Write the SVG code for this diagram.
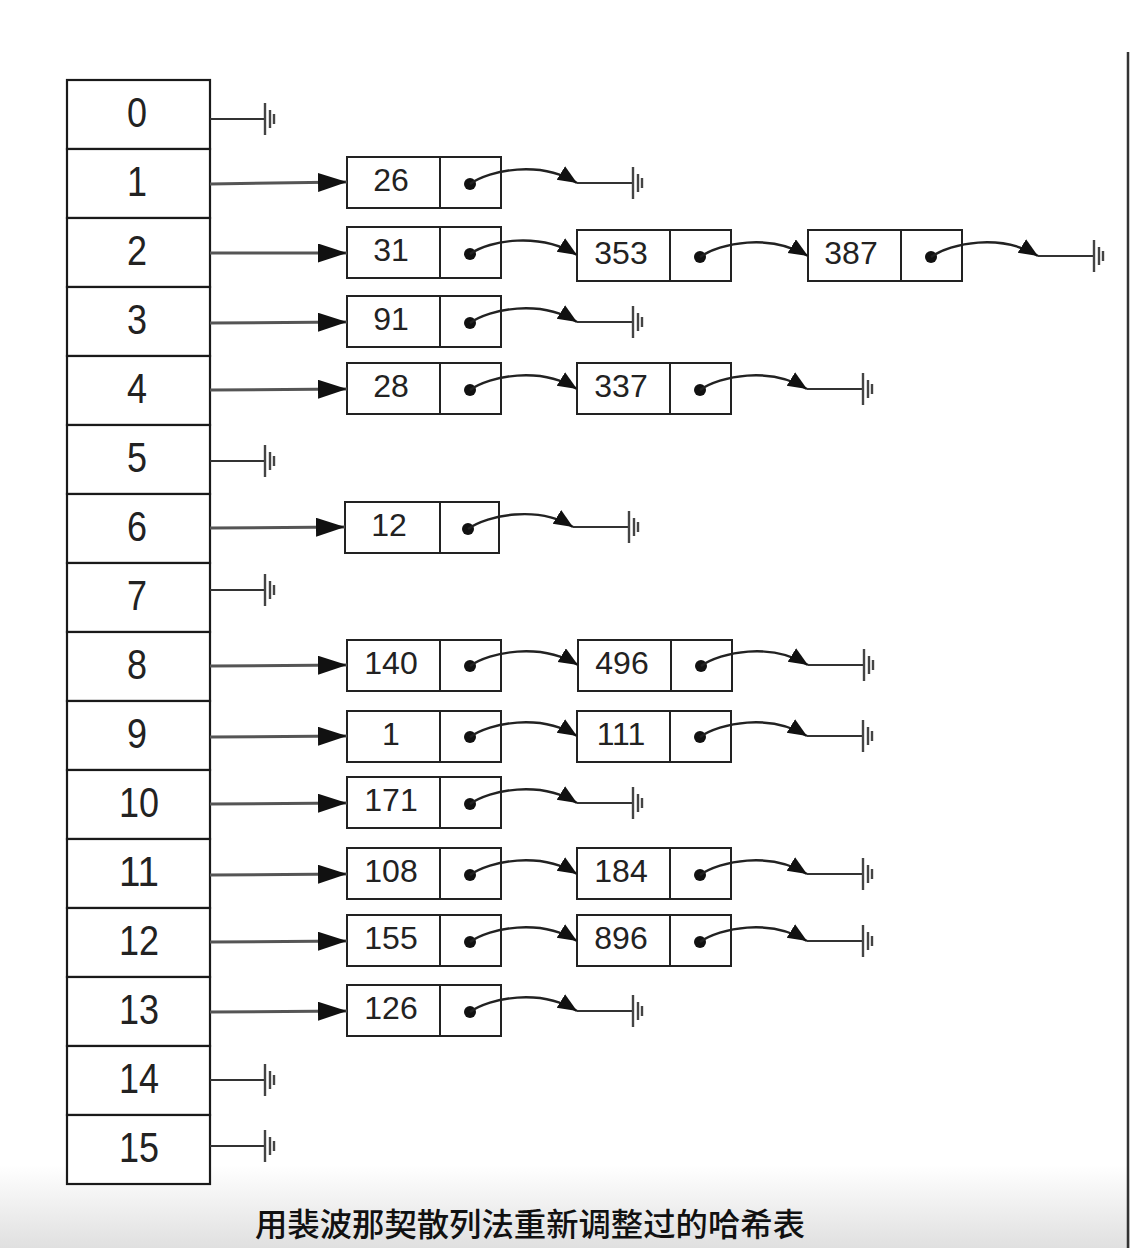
<svg xmlns="http://www.w3.org/2000/svg" xmlns:xlink="http://www.w3.org/1999/xlink" width="1130" height="1248" viewBox="0 0 1130 1248">
<style>
.cell{fill:#fff;stroke:#1a1a1a;stroke-width:2.2}
.nd{fill:#fff;stroke:#222;stroke-width:2}
.tn{font-family:"Liberation Sans",Arial,sans-serif;font-size:42px;fill:#222;text-anchor:middle}
.vn{font-family:"Liberation Sans",Arial,sans-serif;font-size:32px;fill:#222;text-anchor:middle}
.arr{stroke:#555;stroke-width:3;fill:none}
.nul{stroke:#333;stroke-width:2.2;fill:none}
.crv{stroke:#222;stroke-width:2.4;fill:none}
.dot{fill:#111}
.gl{stroke:#444;stroke-width:2.4}
.cap{font-family:"Liberation Sans","Noto Sans CJK SC",sans-serif;font-size:32px;font-weight:500;fill:#111;text-anchor:middle}
</style>
<defs>
<marker id="ah" markerUnits="userSpaceOnUse" markerWidth="30" markerHeight="20" refX="29" refY="9.5" orient="auto"><path d="M0,0 L29,9.5 L0,19 z" fill="#111"/></marker>
<marker id="ch" markerUnits="userSpaceOnUse" markerWidth="22" markerHeight="18" refX="19" refY="8" orient="auto"><path d="M0,0 L19,8 L0,16 z" fill="#111"/></marker>
<g id="gnd"><line class="gl" x1="0" y1="-16" x2="0" y2="16"/><line class="gl" x1="5" y1="-9" x2="5" y2="9"/><line class="gl" x1="9" y1="-5" x2="9" y2="5"/></g>
<linearGradient id="bg" x1="0" y1="0" x2="0" y2="1"><stop offset="0" stop-color="#ffffff"/><stop offset="1" stop-color="#e0e0e0"/></linearGradient>
</defs>
<rect x="0" y="0" width="1130" height="1248" fill="#fff"/>
<rect x="0" y="1165" width="1130" height="83" fill="url(#bg)"/>
<line x1="1128" y1="52" x2="1128" y2="1248" stroke="#333" stroke-width="2.5"/>

<g id="table">
<g id="bucket-0"><rect class="cell" x="67" y="80" width="143" height="69"/><text class="tn" x="137" y="127" textLength="20" lengthAdjust="spacingAndGlyphs">0</text></g>
<g id="bucket-1"><rect class="cell" x="67" y="149" width="143" height="69"/><text class="tn" x="137" y="196" textLength="20" lengthAdjust="spacingAndGlyphs">1</text></g>
<g id="bucket-2"><rect class="cell" x="67" y="218" width="143" height="69"/><text class="tn" x="137" y="265" textLength="20" lengthAdjust="spacingAndGlyphs">2</text></g>
<g id="bucket-3"><rect class="cell" x="67" y="287" width="143" height="69"/><text class="tn" x="137" y="334" textLength="20" lengthAdjust="spacingAndGlyphs">3</text></g>
<g id="bucket-4"><rect class="cell" x="67" y="356" width="143" height="69"/><text class="tn" x="137" y="403" textLength="20" lengthAdjust="spacingAndGlyphs">4</text></g>
<g id="bucket-5"><rect class="cell" x="67" y="425" width="143" height="69"/><text class="tn" x="137" y="472" textLength="20" lengthAdjust="spacingAndGlyphs">5</text></g>
<g id="bucket-6"><rect class="cell" x="67" y="494" width="143" height="69"/><text class="tn" x="137" y="541" textLength="20" lengthAdjust="spacingAndGlyphs">6</text></g>
<g id="bucket-7"><rect class="cell" x="67" y="563" width="143" height="69"/><text class="tn" x="137" y="610" textLength="20" lengthAdjust="spacingAndGlyphs">7</text></g>
<g id="bucket-8"><rect class="cell" x="67" y="632" width="143" height="69"/><text class="tn" x="137" y="679" textLength="20" lengthAdjust="spacingAndGlyphs">8</text></g>
<g id="bucket-9"><rect class="cell" x="67" y="701" width="143" height="69"/><text class="tn" x="137" y="748" textLength="20" lengthAdjust="spacingAndGlyphs">9</text></g>
<g id="bucket-10"><rect class="cell" x="67" y="770" width="143" height="69"/><text class="tn" x="139" y="817" textLength="40" lengthAdjust="spacingAndGlyphs">10</text></g>
<g id="bucket-11"><rect class="cell" x="67" y="839" width="143" height="69"/><text class="tn" x="139" y="886" textLength="40" lengthAdjust="spacingAndGlyphs">11</text></g>
<g id="bucket-12"><rect class="cell" x="67" y="908" width="143" height="69"/><text class="tn" x="139" y="955" textLength="40" lengthAdjust="spacingAndGlyphs">12</text></g>
<g id="bucket-13"><rect class="cell" x="67" y="977" width="143" height="69"/><text class="tn" x="139" y="1024" textLength="40" lengthAdjust="spacingAndGlyphs">13</text></g>
<g id="bucket-14"><rect class="cell" x="67" y="1046" width="143" height="69"/><text class="tn" x="139" y="1093" textLength="40" lengthAdjust="spacingAndGlyphs">14</text></g>
<g id="bucket-15"><rect class="cell" x="67" y="1115" width="143" height="69"/><text class="tn" x="139" y="1162" textLength="40" lengthAdjust="spacingAndGlyphs">15</text></g>
</g>

<g id="nodes">
<g id="n26"><rect class="nd" x="347" y="157" width="154" height="51"/><line class="nd" x1="440" y1="157" x2="440" y2="208"/><text class="vn" x="391" y="191">26</text><circle class="dot" cx="470" cy="184" r="6"/></g>
<g id="n31"><rect class="nd" x="347" y="227" width="154" height="51"/><line class="nd" x1="440" y1="227" x2="440" y2="278"/><text class="vn" x="391" y="261">31</text><circle class="dot" cx="470" cy="254" r="6"/></g>
<g id="n353"><rect class="nd" x="577" y="230" width="154" height="51"/><line class="nd" x1="670" y1="230" x2="670" y2="281"/><text class="vn" x="621" y="264">353</text><circle class="dot" cx="700" cy="257" r="6"/></g>
<g id="n387"><rect class="nd" x="808" y="230" width="154" height="51"/><line class="nd" x1="901" y1="230" x2="901" y2="281"/><text class="vn" x="851" y="264">387</text><circle class="dot" cx="931" cy="257" r="6"/></g>
<g id="n91"><rect class="nd" x="347" y="296" width="154" height="51"/><line class="nd" x1="440" y1="296" x2="440" y2="347"/><text class="vn" x="391" y="330">91</text><circle class="dot" cx="470" cy="323" r="6"/></g>
<g id="n28"><rect class="nd" x="347" y="363" width="154" height="51"/><line class="nd" x1="440" y1="363" x2="440" y2="414"/><text class="vn" x="391" y="397">28</text><circle class="dot" cx="470" cy="390" r="6"/></g>
<g id="n337"><rect class="nd" x="577" y="363" width="154" height="51"/><line class="nd" x1="670" y1="363" x2="670" y2="414"/><text class="vn" x="621" y="397">337</text><circle class="dot" cx="700" cy="390" r="6"/></g>
<g id="n12"><rect class="nd" x="345" y="502" width="154" height="51"/><line class="nd" x1="440" y1="502" x2="440" y2="553"/><text class="vn" x="389" y="536">12</text><circle class="dot" cx="468" cy="529" r="6"/></g>
<g id="n140"><rect class="nd" x="347" y="640" width="154" height="51"/><line class="nd" x1="440" y1="640" x2="440" y2="691"/><text class="vn" x="391" y="674">140</text><circle class="dot" cx="470" cy="666" r="6"/></g>
<g id="n496"><rect class="nd" x="578" y="640" width="154" height="51"/><line class="nd" x1="671" y1="640" x2="671" y2="691"/><text class="vn" x="622" y="674">496</text><circle class="dot" cx="701" cy="666" r="6"/></g>
<g id="n1"><rect class="nd" x="347" y="711" width="154" height="51"/><line class="nd" x1="440" y1="711" x2="440" y2="762"/><text class="vn" x="391" y="745">1</text><circle class="dot" cx="470" cy="737" r="6"/></g>
<g id="n111"><rect class="nd" x="577" y="711" width="154" height="51"/><line class="nd" x1="670" y1="711" x2="670" y2="762"/><text class="vn" x="621" y="745">111</text><circle class="dot" cx="700" cy="737" r="6"/></g>
<g id="n171"><rect class="nd" x="347" y="777" width="154" height="51"/><line class="nd" x1="440" y1="777" x2="440" y2="828"/><text class="vn" x="391" y="811">171</text><circle class="dot" cx="470" cy="804" r="6"/></g>
<g id="n108"><rect class="nd" x="347" y="848" width="154" height="51"/><line class="nd" x1="440" y1="848" x2="440" y2="899"/><text class="vn" x="391" y="882">108</text><circle class="dot" cx="470" cy="875" r="6"/></g>
<g id="n184"><rect class="nd" x="577" y="848" width="154" height="51"/><line class="nd" x1="670" y1="848" x2="670" y2="899"/><text class="vn" x="621" y="882">184</text><circle class="dot" cx="700" cy="875" r="6"/></g>
<g id="n155"><rect class="nd" x="347" y="915" width="154" height="51"/><line class="nd" x1="440" y1="915" x2="440" y2="966"/><text class="vn" x="391" y="949">155</text><circle class="dot" cx="470" cy="942" r="6"/></g>
<g id="n896"><rect class="nd" x="577" y="915" width="154" height="51"/><line class="nd" x1="670" y1="915" x2="670" y2="966"/><text class="vn" x="621" y="949">896</text><circle class="dot" cx="700" cy="942" r="6"/></g>
<g id="n126"><rect class="nd" x="347" y="985" width="154" height="51"/><line class="nd" x1="440" y1="985" x2="440" y2="1036"/><text class="vn" x="391" y="1019">126</text><circle class="dot" cx="470" cy="1012" r="6"/></g>
</g>

<g id="connectors">
<line class="nul" x1="210" y1="119" x2="265" y2="119"/><use xlink:href="#gnd" x="265" y="119"/>
<line class="nul" x1="210" y1="461" x2="265" y2="461"/><use xlink:href="#gnd" x="265" y="461"/>
<line class="nul" x1="210" y1="590" x2="265" y2="590"/><use xlink:href="#gnd" x="265" y="590"/>
<line class="nul" x1="210" y1="1080" x2="265" y2="1080"/><use xlink:href="#gnd" x="265" y="1080"/>
<line class="nul" x1="210" y1="1146" x2="265" y2="1146"/><use xlink:href="#gnd" x="265" y="1146"/>
<line class="arr" x1="210" y1="184" x2="347" y2="182" marker-end="url(#ah)"/>
<line class="arr" x1="210" y1="253" x2="347" y2="253" marker-end="url(#ah)"/>
<line class="arr" x1="210" y1="323" x2="347" y2="322" marker-end="url(#ah)"/>
<line class="arr" x1="210" y1="390" x2="347" y2="389" marker-end="url(#ah)"/>
<line class="arr" x1="210" y1="528" x2="345" y2="527" marker-end="url(#ah)"/>
<line class="arr" x1="210" y1="666" x2="347" y2="665" marker-end="url(#ah)"/>
<line class="arr" x1="210" y1="737" x2="347" y2="736" marker-end="url(#ah)"/>
<line class="arr" x1="210" y1="804" x2="347" y2="803" marker-end="url(#ah)"/>
<line class="arr" x1="210" y1="875" x2="347" y2="874" marker-end="url(#ah)"/>
<line class="arr" x1="210" y1="942" x2="347" y2="941" marker-end="url(#ah)"/>
<line class="arr" x1="210" y1="1012" x2="347" y2="1011" marker-end="url(#ah)"/>
<path class="crv" d="M470,184 C490,170 540,160 577,183" marker-end="url(#ch)"/>
<line class="nul" x1="577" y1="183" x2="633" y2="183"/><use xlink:href="#gnd" x="633" y="183"/>
<path class="crv" d="M470,254 C490,240 540,232 577,255" marker-end="url(#ch)"/>
<path class="crv" d="M700,257 C720,243 770,233 808,256" marker-end="url(#ch)"/>
<path class="crv" d="M931,257 C951,243 1001,233 1038,256" marker-end="url(#ch)"/>
<line class="nul" x1="1038" y1="256" x2="1094" y2="256"/><use xlink:href="#gnd" x="1094" y="256"/>
<path class="crv" d="M470,323 C490,309 540,299 577,322" marker-end="url(#ch)"/>
<line class="nul" x1="577" y1="322" x2="633" y2="322"/><use xlink:href="#gnd" x="633" y="322"/>
<path class="crv" d="M470,390 C490,376 540,366 577,389" marker-end="url(#ch)"/>
<path class="crv" d="M700,390 C720,376 770,366 807,389" marker-end="url(#ch)"/>
<line class="nul" x1="807" y1="389" x2="863" y2="389"/><use xlink:href="#gnd" x="863" y="389"/>
<path class="crv" d="M468,529 C488,515 538,505 573,527" marker-end="url(#ch)"/>
<line class="nul" x1="573" y1="527" x2="629" y2="527"/><use xlink:href="#gnd" x="629" y="527"/>
<path class="crv" d="M470,666 C490,652 540,642 578,665" marker-end="url(#ch)"/>
<path class="crv" d="M701,666 C721,652 771,642 808,665" marker-end="url(#ch)"/>
<line class="nul" x1="808" y1="665" x2="864" y2="665"/><use xlink:href="#gnd" x="864" y="665"/>
<path class="crv" d="M470,737 C490,723 540,713 577,736" marker-end="url(#ch)"/>
<path class="crv" d="M700,737 C720,723 770,713 807,736" marker-end="url(#ch)"/>
<line class="nul" x1="807" y1="736" x2="863" y2="736"/><use xlink:href="#gnd" x="863" y="736"/>
<path class="crv" d="M470,804 C490,790 540,780 577,803" marker-end="url(#ch)"/>
<line class="nul" x1="577" y1="803" x2="633" y2="803"/><use xlink:href="#gnd" x="633" y="803"/>
<path class="crv" d="M470,875 C490,861 540,851 577,874" marker-end="url(#ch)"/>
<path class="crv" d="M700,875 C720,861 770,851 807,874" marker-end="url(#ch)"/>
<line class="nul" x1="807" y1="874" x2="863" y2="874"/><use xlink:href="#gnd" x="863" y="874"/>
<path class="crv" d="M470,942 C490,928 540,918 577,941" marker-end="url(#ch)"/>
<path class="crv" d="M700,942 C720,928 770,918 807,941" marker-end="url(#ch)"/>
<line class="nul" x1="807" y1="941" x2="863" y2="941"/><use xlink:href="#gnd" x="863" y="941"/>
<path class="crv" d="M470,1012 C490,998 540,988 577,1011" marker-end="url(#ch)"/>
<line class="nul" x1="577" y1="1011" x2="633" y2="1011"/><use xlink:href="#gnd" x="633" y="1011"/>
</g>

<text id="caption" class="cap" x="530" y="1236" textLength="550" lengthAdjust="spacingAndGlyphs">用裴波那契散列法重新调整过的哈希表</text>
</svg>
